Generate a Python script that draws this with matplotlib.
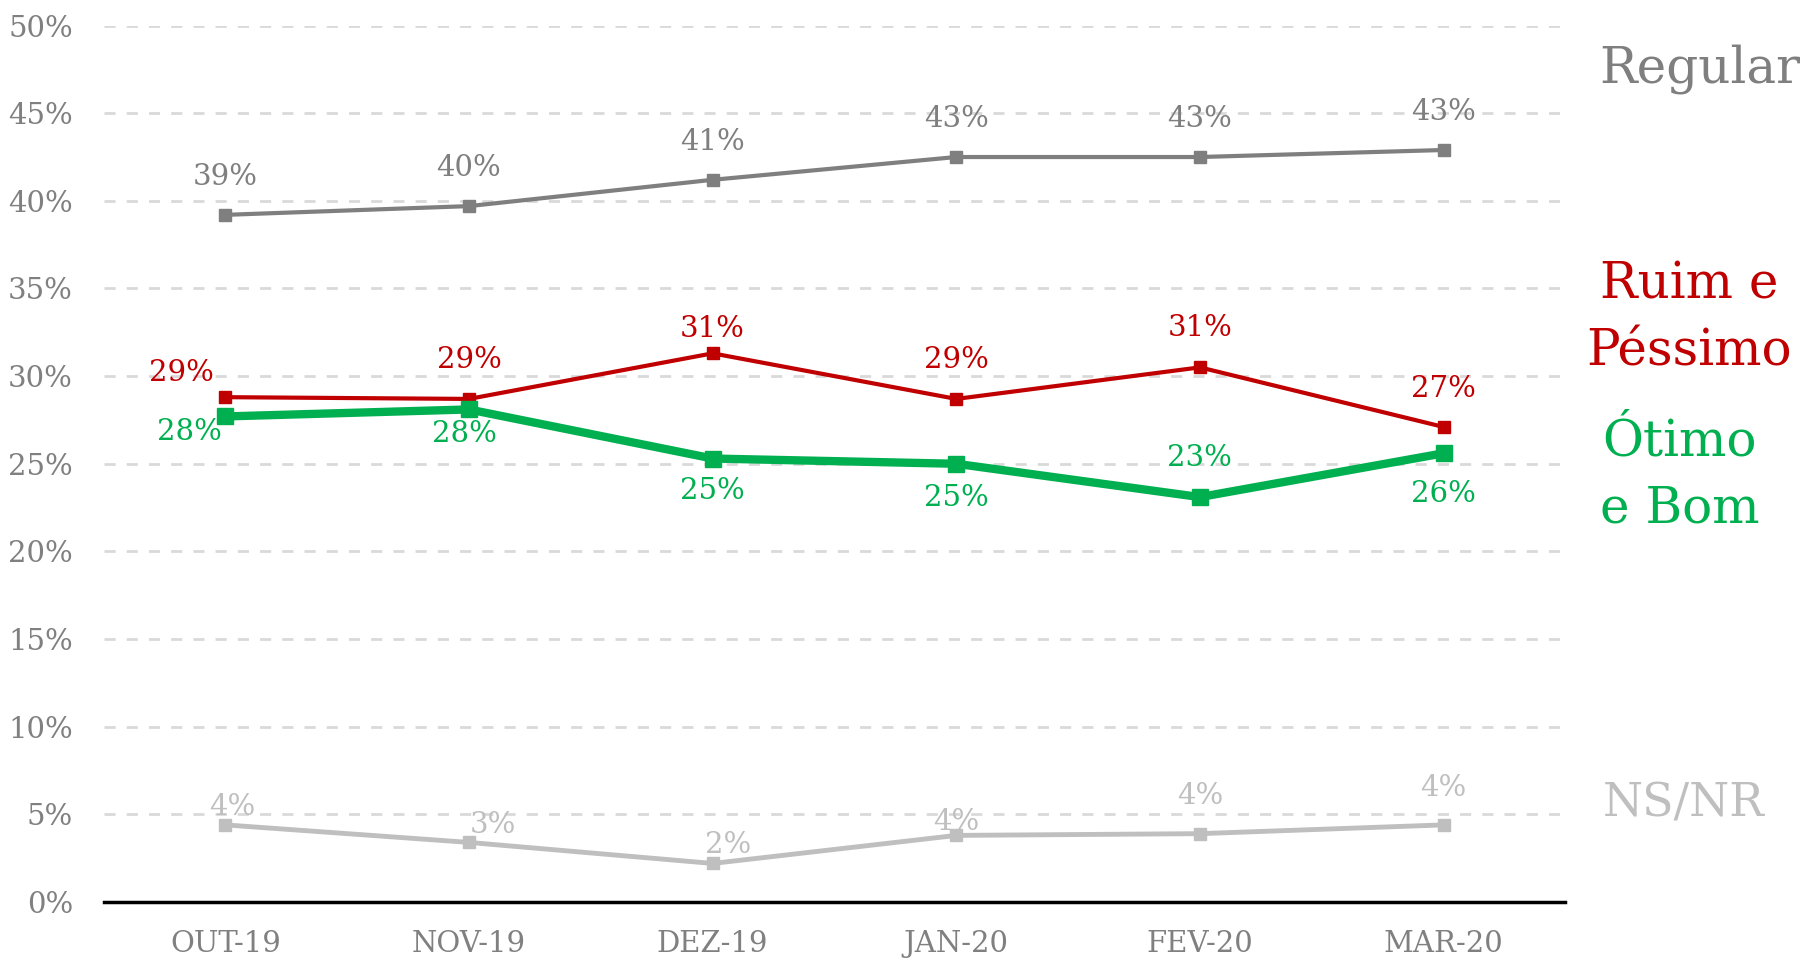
import matplotlib
matplotlib.use("Agg")
import matplotlib.pyplot as plt

plt.rcParams['font.family'] = ['DejaVu Serif']

meses = ['OUT-19', 'NOV-19', 'DEZ-19', 'JAN-20', 'FEV-20', 'MAR-20']

regular = [39.2, 39.7, 41.2, 42.5, 42.5, 42.9]
ruim_pessimo = [28.8, 28.7, 31.3, 28.7, 30.5, 27.1]
otimo_bom = [27.7, 28.1, 25.3, 25.0, 23.1, 25.6]
ns_nr = [4.4, 3.4, 2.2, 3.8, 3.9, 4.4]

rot_regular = ['39%', '40%', '41%', '43%', '43%', '43%']
rot_ruim = ['29%', '29%', '31%', '29%', '31%', '27%']
rot_otimo = ['28%', '28%', '25%', '25%', '23%', '26%']
rot_ns = ['4%', '3%', '2%', '4%', '4%', '4%']

# deslocamento dos rotulos em pixels (dx, dy)
desl_regular = [(0, 38)] * 6
desl_ruim = [(-44, 24), (0, 39), (0, 24), (0, 39), (0, 39), (0, 38)]
desl_otimo = [(-36, -16), (-5, -25), (0, -32), (0, -34), (0, 39), (0, -41)]
desl_ns = [(7, 18), (24, 17), (15, 18), (0, 13), (0, 38), (0, 37)]

cinza = '#7f7f7f'
vermelho = '#c00000'
verde = '#00b050'
cinza_claro = '#bfbfbf'

fig = plt.figure(figsize=(18.16, 9.64), dpi=100)
ax = fig.add_axes([0.057, 0.0643, 0.805, 0.9092])

x = list(range(len(meses)))

series = [
    (regular, rot_regular, desl_regular, cinza, 3),
    (ruim_pessimo, rot_ruim, desl_ruim, vermelho, 3),
    (otimo_bom, rot_otimo, desl_otimo, verde, 6),
    (ns_nr, rot_ns, desl_ns, cinza_claro, 3.5),
]

for valores, rotulos, desl, cor, lw in series:
    ax.plot(x, valores, color=cor, linewidth=lw, marker='s',
            markersize=9 if lw < 5 else 11, zorder=3)
    for i, (v, r) in enumerate(zip(valores, rotulos)):
        ax.annotate(r, (i, v), xytext=desl[i], textcoords='offset pixels',
                    ha='center', va='center', color=cor, fontsize=21, zorder=4)

ax.set_xlim(-0.5, 5.5)
ax.set_ylim(0, 50)
ax.set_yticks(range(0, 51, 5))
ax.set_yticklabels([f'{v}%' for v in range(0, 51, 5)])
ax.set_xticks(x)
ax.set_xticklabels(meses)
ax.tick_params(axis='both', length=0, labelsize=21, colors='#808080')
ax.tick_params(axis='y', pad=22)
ax.tick_params(axis='x', pad=20)

for v in range(5, 51, 5):
    ax.axhline(v, color='#d9d9d9', linewidth=2, linestyle=(0, (4, 4)), zorder=1)

for lado in ['top', 'right', 'left']:
    ax.spines[lado].set_visible(False)
ax.spines['bottom'].set_linewidth(2.5)
ax.spines['bottom'].set_color('black')

fig.text(0.936, 0.928, 'Regular', color=cinza, fontsize=36, ha='center', va='center')
fig.text(0.930, 0.670, 'Ruim e\nPéssimo', color=vermelho, fontsize=36, ha='center',
         va='center', linespacing=1.45)
fig.text(0.925, 0.507, 'Ótimo\ne Bom', color=verde, fontsize=36, ha='center',
         va='center', linespacing=1.45)
fig.text(0.927, 0.166, 'NS/NR', color=cinza_claro, fontsize=33, ha='center', va='center')

fig.savefig('out.png', dpi=100)
